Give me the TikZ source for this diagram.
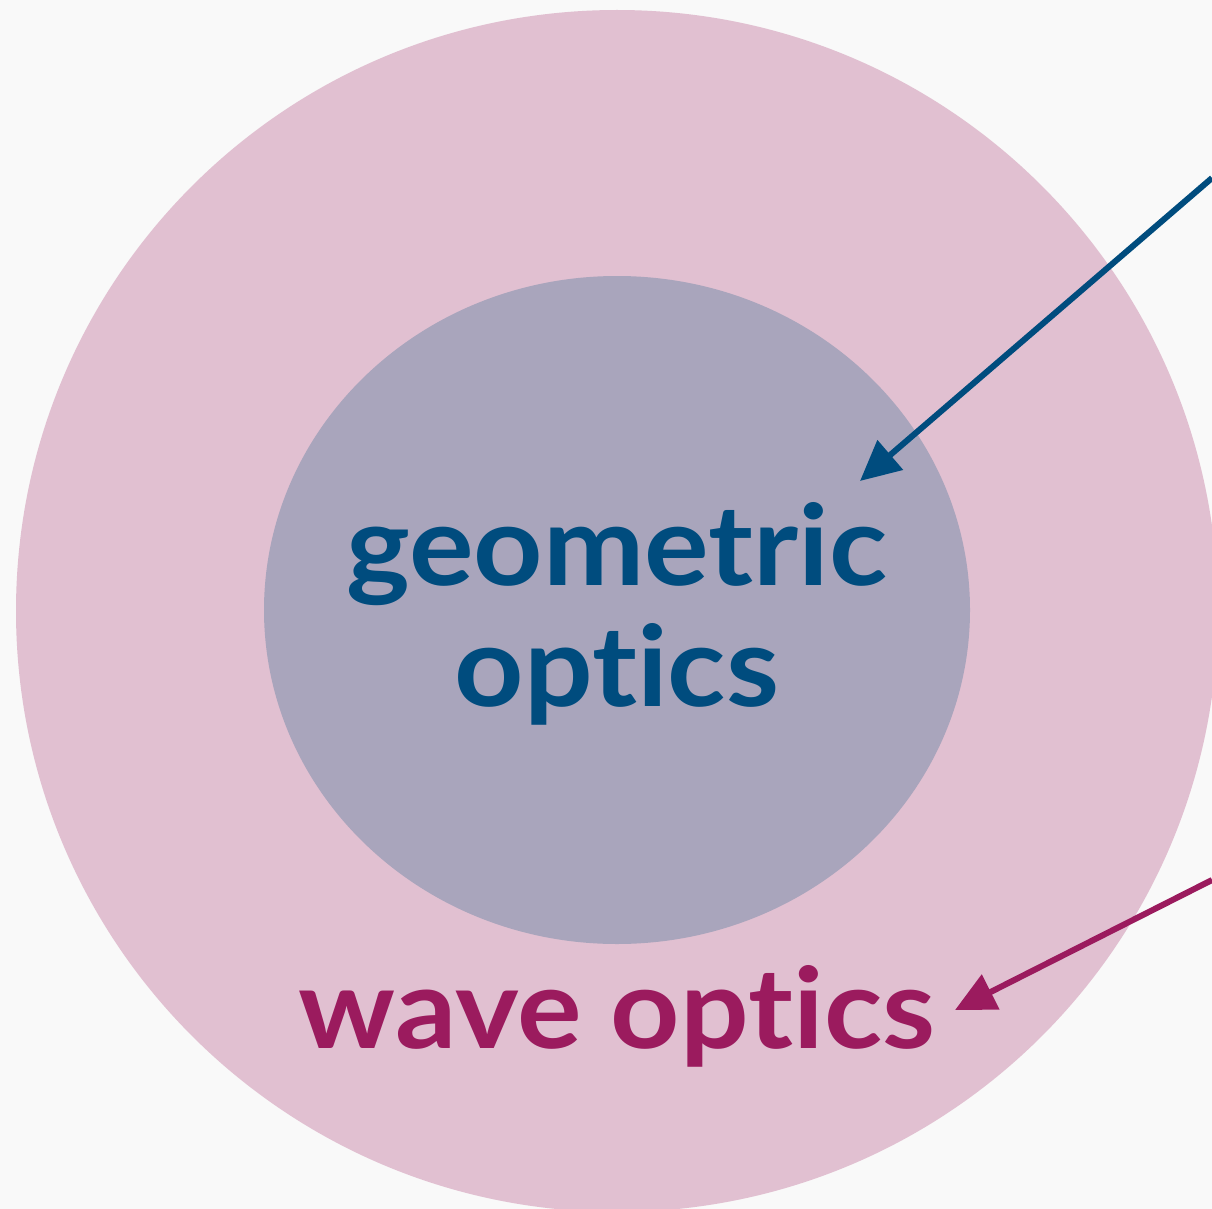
\documentclass[tikz,border=0pt]{standalone}
\usepackage{fontspec}
\setmainfont{Lato}
\newfontfamily\lblfont{Lato}[FakeStretch=1.08, Ligatures={NoCommon,NoRare}]
\usetikzlibrary{arrows.meta}
\definecolor{bgc}{HTML}{F9F9F9}
\definecolor{outerc}{HTML}{E1C0D1}
\definecolor{innerc}{HTML}{A9A5BC}
\definecolor{geoc}{HTML}{004C7E}
\definecolor{wavec}{HTML}{9B1B5E}
\tikzset{
  lbl/.style={font=\lblfont\fontsize{112}{121}\selectfont\bfseries, inner sep=0pt, anchor=base},
  pointer/.style={line width=6pt, -{Triangle[length=40pt,width=38pt]}}
}
\begin{document}
\begin{tikzpicture}[x=1pt,y=-1pt]
\fill[bgc] (0,0) rectangle (1212,1209);
\useasboundingbox (0,0) rectangle (1212,1209);
\fill[outerc] (617,611) circle (601);
\fill[innerc] (617,610) ellipse (353 and 334);
\node[lbl, text=geoc] (geo1) at (617,585) {geometric};
\node[lbl, text=geoc] (geo2) at (617,706) {opt\kern0pt ics};
\node[lbl, text=wavec] (wave) at (617,1048) {wave opt\kern0pt ics};
\coordinate (bstart) at (1212,178);
\coordinate (btip) at (860,481);
\coordinate (pstart) at (1212,880);
\coordinate (ptip) at (955,1010);
\draw[pointer, geoc] (bstart) -- (btip);
\draw[pointer, wavec] (pstart) -- (ptip);
\end{tikzpicture}
\end{document}
